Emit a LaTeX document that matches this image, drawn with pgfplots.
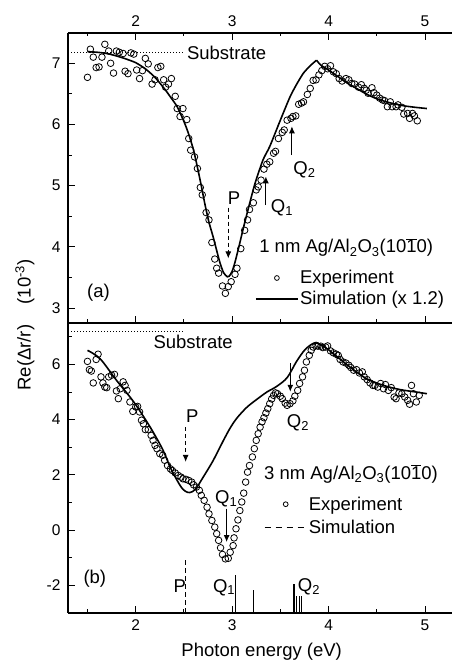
\documentclass[border=0pt]{standalone}
\usepackage{fontspec}
\setmainfont{Liberation Sans}
\usepackage{pgfplots}
\pgfplotsset{compat=1.18}
\usetikzlibrary{arrows.meta}

\pgfplotstableread{
x y
1.50 6.77
1.53 7.23
1.56 7.10
1.59 6.93
1.62 6.94
1.65 7.10
1.68 7.31
1.72 7.20
1.74 7.00
1.77 6.84
1.80 7.20
1.83 7.18
1.87 7.16
1.89 6.87
1.92 6.83
1.95 7.17
1.98 7.15
2.01 6.89
2.04 6.75
2.07 6.88
2.10 7.08
2.13 6.99
2.17 6.66
2.20 6.73
2.23 6.93
2.26 6.95
2.29 6.73
2.31 6.61
2.34 6.66
2.37 6.75
2.41 6.46
2.43 6.26
2.46 6.13
2.49 6.26
2.53 6.08
2.55 5.77
2.57 5.58
2.61 5.47
2.64 5.28
2.67 4.97
2.69 4.85
2.73 4.56
2.76 4.44
2.79 4.07
2.82 3.80
2.84 3.65
2.86 3.57
2.90 3.36
2.93 3.24
2.96 3.35
2.99 3.43
3.03 3.55
3.05 3.65
3.09 3.97
3.13 4.27
3.16 4.44
3.18 4.61
3.22 4.72
3.25 4.93
3.27 4.98
3.30 5.09
3.33 5.27
3.36 5.35
3.39 5.39
3.43 5.53
3.45 5.56
3.48 5.77
3.52 5.87
3.54 5.91
3.57 6.07
3.61 6.10
3.63 6.13
3.66 6.14
3.69 6.33
3.72 6.35
3.74 6.37
3.78 6.49
3.81 6.59
3.84 6.72
3.87 6.73
3.90 6.81
3.93 6.88
3.96 6.95
3.99 6.91
4.02 6.96
4.05 6.86
4.08 6.83
4.11 6.75
4.14 6.71
4.18 6.75
4.21 6.73
4.24 6.67
4.27 6.66
4.31 6.61
4.34 6.65
4.37 6.59
4.39 6.56
4.41 6.51
4.45 6.60
4.47 6.52
4.50 6.48
4.53 6.43
4.56 6.40
4.58 6.39
4.61 6.29
4.64 6.37
4.66 6.29
4.70 6.29
4.72 6.32
4.76 6.28
4.78 6.17
4.82 6.18
4.84 6.10
4.87 6.18
4.89 6.14
4.92 6.06
}\expA

\pgfplotstableread{
x y
1.50 7.19
1.60 7.18
1.70 7.16
1.80 7.12
1.90 7.07
2.00 7.01
2.10 6.91
2.20 6.77
2.30 6.58
2.36 6.45
2.43 6.29
2.50 6.05
2.55 5.84
2.60 5.58
2.64 5.30
2.68 5.00
2.72 4.68
2.76 4.40
2.80 4.18
2.83 4.00
2.87 3.76
2.91 3.58
2.95 3.51
2.97 3.52
3.00 3.60
3.03 3.75
3.07 4.00
3.12 4.33
3.18 4.70
3.24 5.05
3.32 5.42
3.39 5.64
3.50 6.07
3.60 6.45
3.67 6.66
3.74 6.84
3.81 6.96
3.875 7.05
}\simAl

\pgfplotstableread{
x y
3.875 7.05
3.92 6.97
4.00 6.89
4.10 6.78
4.20 6.67
4.30 6.58
4.40 6.49
4.50 6.42
4.60 6.37
4.70 6.33
4.80 6.30
4.90 6.28
5.02 6.26
}\simAr

\pgfplotstableread{
x y
1.50 6.11
1.52 5.81
1.54 5.76
1.56 5.33
1.59 6.18
1.61 6.37
1.64 5.55
1.66 5.33
1.68 5.18
1.70 5.16
1.72 5.55
1.75 5.61
1.78 5.64
1.80 5.04
1.82 4.76
1.84 5.12
1.87 5.37
1.89 5.24
1.91 5.06
1.94 4.64
1.97 4.30
2.00 4.46
2.02 4.48
2.04 4.28
2.06 3.98
2.08 3.85
2.10 3.64
2.13 3.64
2.16 3.43
2.18 3.25
2.20 3.07
2.22 2.95
2.25 2.77
2.28 2.71
2.30 2.53
2.33 2.34
2.36 2.22
2.38 2.16
2.41 2.07
2.44 1.98
2.47 1.92
2.49 1.86
2.52 1.84
2.55 1.80
2.58 1.74
2.60 1.64
2.63 1.56
2.66 1.44
2.68 1.26
2.71 1.08
2.74 0.83
2.76 0.59
2.79 0.35
2.82 0.11
2.84 -0.13
2.86 -0.37
2.88 -0.64
2.90 -0.88
2.93 -1.04
2.96 -1.02
2.98 -0.80
3.01 -0.56
3.02 -0.28
3.04 0.05
3.06 0.37
3.08 0.71
3.10 1.02
3.12 1.34
3.14 1.74
3.16 2.10
3.18 2.34
3.21 2.65
3.23 2.95
3.25 3.25
3.27 3.49
3.29 3.73
3.31 3.92
3.33 4.07
3.35 4.24
3.37 4.40
3.39 4.58
3.41 4.75
3.43 4.88
3.45 4.97
3.47 4.94
3.50 4.85
3.52 4.76
3.55 4.60
3.57 4.52
3.60 4.58
3.63 4.68
3.65 4.85
3.68 5.06
3.70 5.31
3.73 5.55
3.75 5.79
3.77 6.09
3.80 6.33
3.82 6.51
3.84 6.63
3.87 6.69
3.89 6.66
3.92 6.66
3.94 6.61
3.97 6.63
3.99 6.67
4.02 6.49
4.05 6.42
4.08 6.37
4.10 6.33
4.12 6.18
4.15 6.09
4.18 6.05
4.21 5.97
4.23 5.89
4.26 5.79
4.29 5.81
4.32 5.69
4.35 5.73
4.37 5.55
4.40 5.45
4.43 5.33
4.46 5.24
4.48 5.24
4.51 5.18
4.54 5.31
4.57 5.12
4.59 5.27
4.62 5.06
4.65 5.16
4.68 4.82
4.70 4.76
4.73 4.97
4.76 4.94
4.79 4.82
4.82 4.70
4.84 4.56
4.86 5.24
4.88 4.94
4.91 4.64
4.94 4.88
}\expB

\pgfplotstableread{
x y
1.50 6.51
1.63 6.21
1.80 5.43
1.98 4.64
2.15 3.73
2.28 2.92
2.36 2.26
2.46 1.62
2.51 1.42
2.56 1.36
2.62 1.48
2.70 1.92
2.80 2.50
2.91 3.25
2.98 3.70
3.05 4.06
3.15 4.44
3.25 4.72
3.36 5.00
3.46 5.20
3.57 5.52
3.67 6.12
3.76 6.55
3.86 6.78
3.96 6.63
4.05 6.39
4.22 5.91
4.39 5.49
4.57 5.24
4.74 5.09
4.91 5.00
5.02 4.94
}\simB

\newcommand{\txt}{\fontsize{18.5}{22}\selectfont}
\newcommand{\barone}{$\overline{\hbox{1}}$}

\pgfplotsset{
  panel/.style={
    scale only axis, width=384pt, height=290pt,
    xmin=1.298, xmax=5.28,
    axis y line*=left,
    axis line style={line width=1.1pt},
    tick align=inside,
    xtick={2,3,4,5}, minor xtick={1.5,2.5,3.5,4.5},
    major tick length=7pt, minor tick length=3.5pt,
    tick style={black, line width=1pt},
    tick label style={font=\fontsize{15.5}{18}\selectfont},
    /pgf/number format/assume math mode=true,
    ytick pos=left,
    yticklabel style={xshift=-4pt},
    legend image code/.code={\draw[mark repeat=2,mark phase=2,##1] plot coordinates {(0pt,0pt) (21pt,0pt) (42pt,0pt)};},
  },
  exper/.style={only marks, mark=o, mark size=3.3pt, mark options={line width=0.8pt, black}},
}

\begin{document}
\begin{tikzpicture}
\useasboundingbox (0pt,0pt) rectangle (452pt,666pt);
\coordinate (TSW) at (68pt,343pt);
\coordinate (BSW) at (68pt,53pt);

% ---- top panel
\begin{axis}[panel, at={(TSW)}, anchor=south west,
  ymin=2.755, ymax=7.495,
  ytick={3,4,5,6,7}, minor ytick={3.5,4.5,5.5,6.5},
  xtick pos=both, xticklabel pos=right,
  xticklabel style={yshift=3pt},
  legend style={draw=none, fill=none, at={(axis cs:3.237,3.64)}, anchor=north west,
    inner sep=0pt, font=\txt, row sep=3pt, legend cell align=left,
    nodes={inner sep=1.5pt}},
]
\addplot[exper, forget plot] table {\expA};
\addplot[black, line width=1.6pt, smooth, tension=0.4, forget plot] table {\simAl};
\addplot[black, line width=1.6pt, smooth, tension=0.4, forget plot] table {\simAr};
\addplot[black, dotted, line width=1pt, forget plot] coordinates {(1.298,7.18) (2.49,7.18)};
\addlegendimage{only marks, mark=o, mark size=2.4pt, mark options={line width=0.8pt}}
\addlegendentry{Experiment}
\addlegendimage{black, line width=1.4pt}
\addlegendentry{Simulation (x 1.2)}
\node[anchor=base west, inner sep=0, font=\txt] at (axis cs:2.53,7.054) {Substrate};
\node[anchor=base west, inner sep=0, font=\txt] at (axis cs:3.28,3.90) {1 nm Ag/Al\textsubscript{2}O\textsubscript{3}(10\barone0)};
\node[anchor=west, inner sep=0, font=\txt] at (axis cs:1.495,3.245) {(a)};
% arrows
\draw[black, line width=1pt, dash pattern=on 4pt off 3pt, -{Latex[length=7pt,width=6pt]}] (axis cs:2.96,4.64) -- (axis cs:2.96,3.81);
\node[anchor=base west, inner sep=0, font=\txt] at (axis cs:2.955,4.69) {P};
\draw[black, line width=1pt, -{Latex[length=7pt,width=6pt]}] (axis cs:3.35,4.68) -- (axis cs:3.35,5.15);
\node[anchor=base west, inner sep=0, font=\txt] at (axis cs:3.40,4.564) {Q\textsubscript{1}};
\draw[black, line width=1pt, -{Latex[length=7pt,width=6pt]}] (axis cs:3.62,5.5) -- (axis cs:3.62,5.97);
\node[anchor=base west, inner sep=0, font=\txt] at (axis cs:3.634,5.19) {Q\textsubscript{2}};
\end{axis}

% ---- bottom panel
\begin{axis}[panel, at={(BSW)}, anchor=south west,
  ymin=-3, ymax=7.5,
  ytick={-2,0,2,4,6}, minor ytick={-1,1,3,5,7},
  xtick pos=left, xticklabel pos=left,
  xticklabel style={yshift=-3pt},
  legend style={draw=none, fill=none, at={(axis cs:3.33,1.27)}, anchor=north west,
    inner sep=0pt, font=\txt, row sep=5pt, legend cell align=left,
    nodes={inner sep=1.5pt}},
]
\addplot[exper, forget plot] table {\expB};
\addplot[black, line width=1.6pt, smooth, tension=0.5, forget plot] table {\simB};
\addplot[black, dotted, line width=1pt, forget plot] coordinates {(1.298,7.18) (2.49,7.18)};
\addplot[black, line width=1pt, dash pattern=on 5pt off 3pt, forget plot] coordinates {(2.518,-3) (2.518,-0.98)};
\addplot[black, line width=1.1pt, forget plot] coordinates {(3.035,-3) (3.035,-1.61)};
\addplot[black, line width=1.1pt, forget plot] coordinates {(3.22,-3) (3.22,-2.18)};
\addplot[black, line width=1.1pt, forget plot] coordinates {(3.642,-3) (3.642,-1.94)};
\addplot[black, line width=1.1pt, forget plot] coordinates {(3.670,-3) (3.670,-2.40)};
\addplot[black, line width=1.1pt, forget plot] coordinates {(3.694,-3) (3.694,-2.40)};
\addplot[black, line width=1.1pt, forget plot] coordinates {(3.72,-3) (3.72,-2.40)};
\addlegendimage{only marks, mark=o, mark size=2.4pt, mark options={line width=0.8pt}}
\addlegendentry{Experiment}
\addlegendimage{black, line width=1.1pt, dash pattern=on 6pt off 5pt}
\addlegendentry{Simulation}
\node[anchor=base west, inner sep=0, font=\txt] at (axis cs:2.183,6.58) {Substrate};
\node[anchor=base west, inner sep=0, font=\txt] at (axis cs:3.33,1.83) {3 nm Ag/Al\textsubscript{2}O\textsubscript{3}(10\barone0)};
\node[anchor=west, inner sep=0, font=\txt] at (axis cs:1.457,-1.76) {(b)};
\draw[black, line width=1pt, dash pattern=on 4pt off 3pt, -{Latex[length=7pt,width=6pt]}] (axis cs:2.518,3.73) -- (axis cs:2.518,2.47);
\node[anchor=base west, inner sep=0, font=\txt] at (axis cs:2.52,3.91) {P};
\draw[black, line width=1pt, -{Latex[length=7pt,width=6pt]}] (axis cs:2.943,0.775) -- (axis cs:2.943,-0.43);
\node[anchor=base west, inner sep=0, font=\txt] at (axis cs:2.822,0.957) {Q\textsubscript{1}};
\draw[black, line width=1pt, -{Latex[length=7pt,width=6pt]}] (axis cs:3.603,6.04) -- (axis cs:3.603,5.01);
\node[anchor=base west, inner sep=0, font=\txt] at (axis cs:3.566,3.73) {Q\textsubscript{2}};
\node[anchor=base west, inner sep=0, font=\txt] at (axis cs:2.39,-2.24) {P};
\node[anchor=base west, inner sep=0, font=\txt] at (axis cs:2.80,-2.24) {Q\textsubscript{1}};
\node[anchor=base west, inner sep=0, font=\txt] at (axis cs:3.68,-2.21) {Q\textsubscript{2}};
\end{axis}

\node[font=\txt] at (261.7pt,14.3pt) {Photon energy (eV)};
\node[font=\txt, rotate=90] at (25pt,341pt) {Re(Δr/r)\hspace{1.1em}(10\textsuperscript{-3})};
\end{tikzpicture}
\end{document}
